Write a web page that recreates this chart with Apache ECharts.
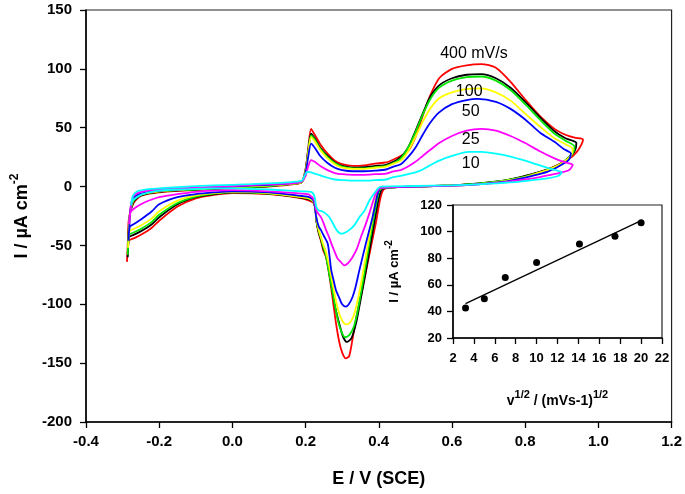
<!DOCTYPE html>
<html><head><meta charset="utf-8">
<script src="https://cdn.jsdelivr.net/npm/echarts/dist/echarts.min.js"></script>
<style>html,body{margin:0;padding:0;background:#fff}#c{width:685px;height:494px}</style>
</head><body><div id="c"></div>
<script>
// ---- main CV data: [E (V vs SCE), I (uA cm-2)] ----
const cv400 = [[-0.288,-64],[-0.286,-50],[-0.283,-28],[-0.27,-14],[-0.25,-8],[-0.2,-5],[-0.1,-3],[0.0,-1.5],[0.1,0],[0.17,2],[0.19,4],
[0.2,15],[0.207,32],[0.215,49],[0.225,44],[0.24,36],[0.26,28],[0.28,22],[0.3,19],[0.33,17.5],[0.36,18],[0.39,19.5],[0.42,20.5],[0.44,23],
[0.46,26],[0.48,30],[0.5,42],[0.52,60],[0.54,77],[0.565,92],[0.6,100],[0.64,103],[0.68,104],[0.72,101],[0.76,89],[0.8,74],[0.84,60],[0.88,49],[0.91,44],[0.935,41.5],[0.958,40],
[0.945,31],[0.93,26],[0.91,22],[0.89,18.5],[0.86,14.5],[0.82,10.5],[0.77,6.5],[0.72,4],[0.65,2],[0.6,1],[0.5,0],[0.45,-0.5],[0.415,-2],
[0.405,-9],[0.392,-31],[0.378,-52],[0.365,-72],[0.35,-94],[0.338,-112],[0.328,-130],[0.319,-144],[0.31,-146],[0.3,-141],[0.292,-132],[0.283,-116],[0.276,-100],[0.27,-86],[0.263,-72],[0.256,-60],[0.248,-54],[0.242,-46],[0.236,-40],[0.23,-30],[0.227,-20],[0.222,-14],[0.21,-12],[0.19,-10],
[0.1,-6.5],[0.0,-5.5],[-0.05,-7],[-0.1,-10],[-0.15,-17],[-0.2,-29],[-0.22,-35],[-0.25,-41],[-0.27,-44],[-0.283,-46],[-0.288,-64]];

const cv200 = [[-0.286,-60],[-0.284,-46],[-0.281,-26],[-0.27,-13],[-0.25,-7.5],[-0.2,-4.5],[-0.1,-2.5],[0.0,-1],[0.1,0.5],[0.17,2.5],[0.19,4],
[0.2,14],[0.207,30],[0.215,45],[0.225,41],[0.24,33],[0.26,26],[0.28,20.5],[0.3,17.5],[0.33,16],[0.36,16.5],[0.39,17.5],[0.42,18.5],[0.44,21],
[0.46,25],[0.48,33],[0.5,47],[0.52,62],[0.54,76],[0.565,86],[0.6,92],[0.64,95],[0.68,95.5],[0.72,92],[0.76,84],[0.8,72],[0.84,59],[0.88,47],[0.91,41],[0.94,37],
[0.935,30],[0.92,25],[0.9,20],[0.87,15.5],[0.84,12.5],[0.8,9],[0.75,5.5],[0.7,3.5],[0.65,2],[0.6,1],[0.5,0],[0.45,-0.5],[0.41,-2],
[0.4,-10],[0.387,-32],[0.374,-55],[0.36,-80],[0.348,-100],[0.338,-116],[0.325,-129],[0.313,-132],[0.303,-128],[0.295,-120],[0.285,-108],[0.277,-96],[0.27,-83],[0.263,-70],[0.256,-59],[0.248,-52],[0.242,-45],[0.236,-39],[0.23,-30],[0.227,-20],[0.222,-13],[0.21,-11],[0.19,-9.5],
[0.1,-6],[0.0,-5],[-0.05,-6.5],[-0.1,-9],[-0.15,-15],[-0.2,-26],[-0.22,-32],[-0.25,-38],[-0.27,-41],[-0.282,-43],[-0.286,-60]];

const cv150 = [[-0.286,-58],[-0.284,-44],[-0.281,-25],[-0.27,-12],[-0.25,-7],[-0.2,-4],[-0.1,-2.5],[0.0,-1],[0.1,0.5],[0.17,2.5],[0.19,4],
[0.2,13],[0.207,29],[0.215,43.5],[0.225,40],[0.24,32],[0.26,25],[0.28,20],[0.3,17],[0.33,15.5],[0.36,15.5],[0.39,16.5],[0.42,17.5],[0.44,20],
[0.46,24],[0.48,33],[0.5,46],[0.52,61],[0.54,74],[0.565,84],[0.6,90],[0.64,93],[0.68,93.5],[0.72,90],[0.76,82],[0.8,70],[0.84,57],[0.88,45],[0.91,39],[0.935,34],
[0.93,28],[0.915,23.5],[0.9,19.5],[0.87,15],[0.84,12],[0.8,8.5],[0.75,5.5],[0.7,3.5],[0.65,2],[0.6,1],[0.5,0],[0.45,-0.5],[0.405,-2],
[0.396,-10],[0.383,-32],[0.37,-56],[0.356,-82],[0.344,-103],[0.333,-118],[0.32,-126],[0.308,-128],[0.299,-124],[0.29,-116],[0.282,-104],[0.275,-92],[0.268,-80],[0.261,-68],[0.255,-58],[0.248,-51],[0.242,-44],[0.236,-38],[0.23,-29],[0.227,-19],[0.222,-13],[0.21,-10.5],[0.19,-9],
[0.1,-6],[0.0,-5],[-0.05,-6],[-0.1,-8.5],[-0.15,-14],[-0.2,-24],[-0.22,-30],[-0.25,-36],[-0.27,-39],[-0.282,-41],[-0.286,-58]];

const cv100 = [[-0.285,-52],[-0.283,-40],[-0.28,-23],[-0.27,-11],[-0.25,-6.5],[-0.2,-4],[-0.1,-2],[0.0,-0.5],[0.1,1],[0.17,2.5],[0.19,4],
[0.2,13],[0.207,28],[0.215,42],[0.225,38.5],[0.24,31],[0.26,24],[0.28,19],[0.3,16],[0.33,15],[0.36,15],[0.39,16],[0.42,17],[0.44,19.5],
[0.46,22],[0.48,30],[0.5,42],[0.52,55],[0.54,66],[0.565,75],[0.6,80],[0.64,83],[0.68,83.5],[0.72,80],[0.76,73],[0.8,62],[0.84,51],[0.88,41],[0.91,36],[0.93,32],
[0.925,26],[0.91,22],[0.89,18],[0.86,14],[0.83,11],[0.8,8],[0.75,5],[0.7,3],[0.65,1.5],[0.6,0.8],[0.5,0],[0.45,-0.5],[0.4,-2],
[0.392,-10],[0.38,-32],[0.367,-55],[0.354,-78],[0.342,-97],[0.331,-110],[0.32,-116],[0.31,-117],[0.3,-114],[0.291,-107],[0.283,-97],[0.276,-86],[0.269,-75],[0.262,-64],[0.255,-55],[0.248,-49],[0.242,-43],[0.236,-37],[0.23,-28],[0.227,-19],[0.222,-13],[0.21,-10],[0.19,-9],
[0.1,-5.5],[0.0,-4.5],[-0.05,-5.5],[-0.1,-7.5],[-0.15,-12],[-0.2,-21],[-0.22,-27],[-0.25,-33],[-0.27,-36],[-0.281,-38],[-0.285,-52]];

const cv50 = [[-0.284,-46],[-0.282,-36],[-0.279,-20],[-0.27,-10],[-0.25,-6],[-0.2,-3.5],[-0.1,-1.5],[0.0,0],[0.1,1.5],[0.17,3],[0.19,4.5],
[0.2,12],[0.207,25],[0.215,36.5],[0.225,33],[0.24,26],[0.26,20],[0.28,16],[0.3,14],[0.33,13],[0.36,13],[0.39,13.5],[0.42,14.5],[0.44,17],
[0.46,19],[0.48,25],[0.5,33],[0.52,44],[0.54,54],[0.565,63],[0.6,70],[0.64,73.5],[0.67,74.5],[0.72,72],[0.76,66],[0.8,57],[0.84,46],[0.88,38],[0.905,32],[0.925,28],
[0.92,23],[0.905,19.5],[0.885,16],[0.86,12.5],[0.83,10],[0.8,7.5],[0.75,4.5],[0.7,2.8],[0.65,1.5],[0.6,0.8],[0.5,0],[0.45,-0.5],[0.405,-1],
[0.397,-6],[0.383,-26],[0.365,-48],[0.347,-71],[0.336,-86],[0.328,-94],[0.318,-100],[0.31,-102],[0.3,-100],[0.29,-93],[0.283,-88],[0.276,-79],[0.27,-71],[0.265,-58],[0.26,-48],[0.25,-42],[0.242,-37],[0.236,-34],[0.229,-26],[0.226,-18],[0.222,-12],[0.21,-9],[0.19,-8],
[0.1,-5],[0.0,-4],[-0.05,-5],[-0.1,-6.5],[-0.15,-9],[-0.2,-15],[-0.22,-21],[-0.25,-28],[-0.27,-32],[-0.28,-34],[-0.284,-46]];

const cv25 = [[-0.282,-32],[-0.28,-25],[-0.277,-15],[-0.27,-8],[-0.25,-4.5],[-0.2,-2.5],[-0.1,-1],[0.0,0.5],[0.1,2],[0.17,3],[0.19,4.5],
[0.2,9],[0.207,17],[0.215,22.5],[0.225,21],[0.24,17.5],[0.26,14],[0.28,11.5],[0.3,10.5],[0.33,10],[0.36,10],[0.39,10.5],[0.42,11],[0.44,13],
[0.46,14],[0.48,17],[0.5,21],[0.52,26],[0.54,31],[0.565,37],[0.6,43],[0.64,47.5],[0.68,49],[0.72,47.5],[0.76,43],[0.8,37],[0.84,30],[0.88,24],[0.91,20.5],[0.93,18.5],
[0.92,14],[0.9,12],[0.87,10],[0.84,8],[0.8,6],[0.75,4],[0.7,2.5],[0.65,1.5],[0.6,0.8],[0.5,0],[0.45,-0.3],[0.405,-1],
[0.392,-6],[0.383,-14],[0.374,-23],[0.362,-34],[0.351,-43],[0.34,-53],[0.328,-60],[0.316,-65],[0.306,-67],[0.296,-64],[0.287,-61],[0.279,-55],[0.27,-48],[0.263,-42],[0.256,-37],[0.249,-31],[0.242,-26],[0.235,-23],[0.229,-20],[0.224,-12],[0.21,-7],[0.19,-6],
[0.1,-4],[0.0,-3],[-0.05,-3.5],[-0.1,-4.5],[-0.15,-6.5],[-0.2,-9],[-0.22,-11],[-0.25,-15],[-0.27,-19],[-0.279,-22],[-0.282,-32]];

const cv10 = [[-0.277,-16],[-0.275,-12],[-0.272,-8],[-0.26,-4],[-0.22,-2],[-0.15,-0.5],[-0.05,1],[0.05,2],[0.15,3.5],[0.19,5],
[0.197,9],[0.205,12.6],[0.215,12],[0.225,11],[0.24,9.5],[0.26,7.5],[0.28,6],[0.3,5.5],[0.33,5],[0.36,5],[0.39,5.5],[0.42,6],[0.44,8],
[0.46,9],[0.48,10.5],[0.5,12],[0.52,14.5],[0.54,18],[0.565,22],[0.6,26],[0.645,29.5],[0.68,29.5],[0.72,28],[0.76,25.5],[0.8,22],[0.84,18],[0.87,15],[0.9,12],
[0.89,9],[0.86,7],[0.82,5.5],[0.78,4],[0.73,3],[0.68,2],[0.6,1],[0.5,0.5],[0.405,0],
[0.397,-2],[0.385,-7],[0.374,-12],[0.36,-21],[0.347,-26],[0.333,-33],[0.319,-37],[0.305,-39.5],[0.297,-40],[0.285,-37],[0.274,-31],[0.265,-26],[0.255,-23],[0.245,-21],[0.235,-20],[0.229,-17],[0.224,-8],[0.215,-4.5],[0.19,-4],
[0.1,-2.5],[0.0,-1.5],[-0.05,-1.5],[-0.1,-2],[-0.15,-2.5],[-0.2,-3.5],[-0.22,-4.5],[-0.25,-7],[-0.27,-11],[-0.275,-13],[-0.277,-16]];

const curveNames  = ['400','200','150','100','50','25','10'];
const curveColors = ['#ff0000','#000000','#00e600','#ffff00','#0000ff','#ff00ff','#00ffff'];
const curves = [cv400, cv200, cv150, cv100, cv50, cv25, cv10];

// scan-rate annotations (placed in data coordinates)
const noteText = ['400 mV/s','100','50','25','10'];
const noteE    = [0.66, 0.647, 0.651, 0.651, 0.651];
const noteI    = [112.6, 80.6, 63.6, 39.6, 19.8];

// ---- inset: peak current vs sqrt(scan rate) ----
const insetX = [3.2, 5, 7, 10, 14.1, 17.5, 20];
const insetY = [42.5, 49.6, 65.5, 76.7, 90.7, 96.5, 106.7];
const fitX = [3.2, 20];
const fitY = [45.8, 108.2];

const FONT = 'Liberation Sans, Arial, Helvetica, sans-serif';
const chart = echarts.init(document.getElementById('c'), null, {renderer:'canvas'});

const series = curves.map((d,i)=>({
  name: curveNames[i], type:'line', xAxisIndex:0, yAxisIndex:0, data:d,
  showSymbol:false, symbol:'none', smooth:0.25, z: 2+i,
  lineStyle:{color:curveColors[i], width:1.8}
}));
series.push({
  type:'scatter', xAxisIndex:0, yAxisIndex:0, symbolSize:0, z:20, silent:true,
  itemStyle:{opacity:1},
  data: noteText.map((t,i)=>({name:t, value:[noteE[i], noteI[i]]})),
  label:{show:true, position:'inside', formatter:p=>p.name, color:'#000', opacity:1, fontSize:16, fontFamily:FONT}
});
series.push({
  type:'line', xAxisIndex:1, yAxisIndex:1, data: fitX.map((x,i)=>[x, fitY[i]]),
  showSymbol:false, symbol:'none', lineStyle:{color:'#000', width:1.3}, z:30
});
series.push({
  type:'scatter', xAxisIndex:1, yAxisIndex:1, data: insetX.map((x,i)=>[x, insetY[i]]),
  symbolSize:7, itemStyle:{color:'#000', opacity:1}, z:31
});

const axisCommon = {
  axisLine:{show:true, onZero:false, lineStyle:{color:'#000', width:1.5}},
  axisTick:{show:true, inside:false, length:6, lineStyle:{color:'#000', width:1.3}},
  splitLine:{show:false}
};

chart.setOption({
  animation:false,
  backgroundColor:'#fff',
  textStyle:{fontFamily:FONT},
  grid:[
    {left:86, top:10, width:588, height:412, show:true, borderColor:'#222', borderWidth:1.2, backgroundColor:'transparent'},
    {left:453, top:205, width:209, height:133, show:true, borderColor:'#222', borderWidth:1.2, backgroundColor:'#fff', z:10}
  ],
  xAxis:[
    Object.assign({gridIndex:0, type:'value', min:-0.4, max:1.2, interval:0.2,
      axisLabel:{margin:12, fontSize:15, fontWeight:'bold', color:'#000', fontFamily:FONT, formatter:v=>v.toFixed(1)},
      name:'E / V (SCE)', nameLocation:'middle', nameGap:48,
      nameTextStyle:{fontSize:18, fontWeight:'bold', color:'#000', fontFamily:FONT}}, axisCommon),
    Object.assign({gridIndex:1, type:'value', min:2, max:22, interval:2, z:12,
      axisLabel:{margin:14, fontSize:13, fontWeight:'bold', color:'#000', fontFamily:FONT},
      name:'{a|v}{b|1/2}{a| / (mVs-1)}{b|1/2}', nameLocation:'middle', nameGap:51,
      nameTextStyle:{color:'#000', fontFamily:FONT,
        rich:{a:{fontSize:14, fontWeight:'bold', lineHeight:24, fontFamily:FONT, color:'#000'},
              b:{fontSize:11, fontWeight:'bold', lineHeight:12, verticalAlign:'top', fontFamily:FONT, color:'#000'}}}}, axisCommon)
  ],
  yAxis:[
    Object.assign({gridIndex:0, type:'value', min:-200, max:150, interval:50,
      axisLabel:{margin:14, fontSize:15, fontWeight:'bold', color:'#000', fontFamily:FONT},
      name:'{a|I / µA cm}{b|-2}', nameLocation:'middle', nameGap:50, nameRotate:90,
      nameTextStyle:{color:'#000', fontFamily:FONT,
        rich:{a:{fontSize:18, fontWeight:'bold', lineHeight:26, fontFamily:FONT, color:'#000'},
              b:{fontSize:12, fontWeight:'bold', lineHeight:12, verticalAlign:'top', fontFamily:FONT, color:'#000'}}}}, axisCommon),
    Object.assign({gridIndex:1, type:'value', min:20, max:120, interval:20, z:12,
      axisLabel:{margin:11, fontSize:13, fontWeight:'bold', color:'#000', fontFamily:FONT},
      name:'{a|I / µA cm}{b|-2}', nameLocation:'middle', nameGap:49, nameRotate:90,
      nameTextStyle:{color:'#000', fontFamily:FONT,
        rich:{a:{fontSize:13, fontWeight:'bold', lineHeight:20, fontFamily:FONT, color:'#000'},
              b:{fontSize:10, fontWeight:'bold', lineHeight:10, verticalAlign:'top', fontFamily:FONT, color:'#000'}}}}, axisCommon)
  ],
  series: series
});
</script></body></html>
